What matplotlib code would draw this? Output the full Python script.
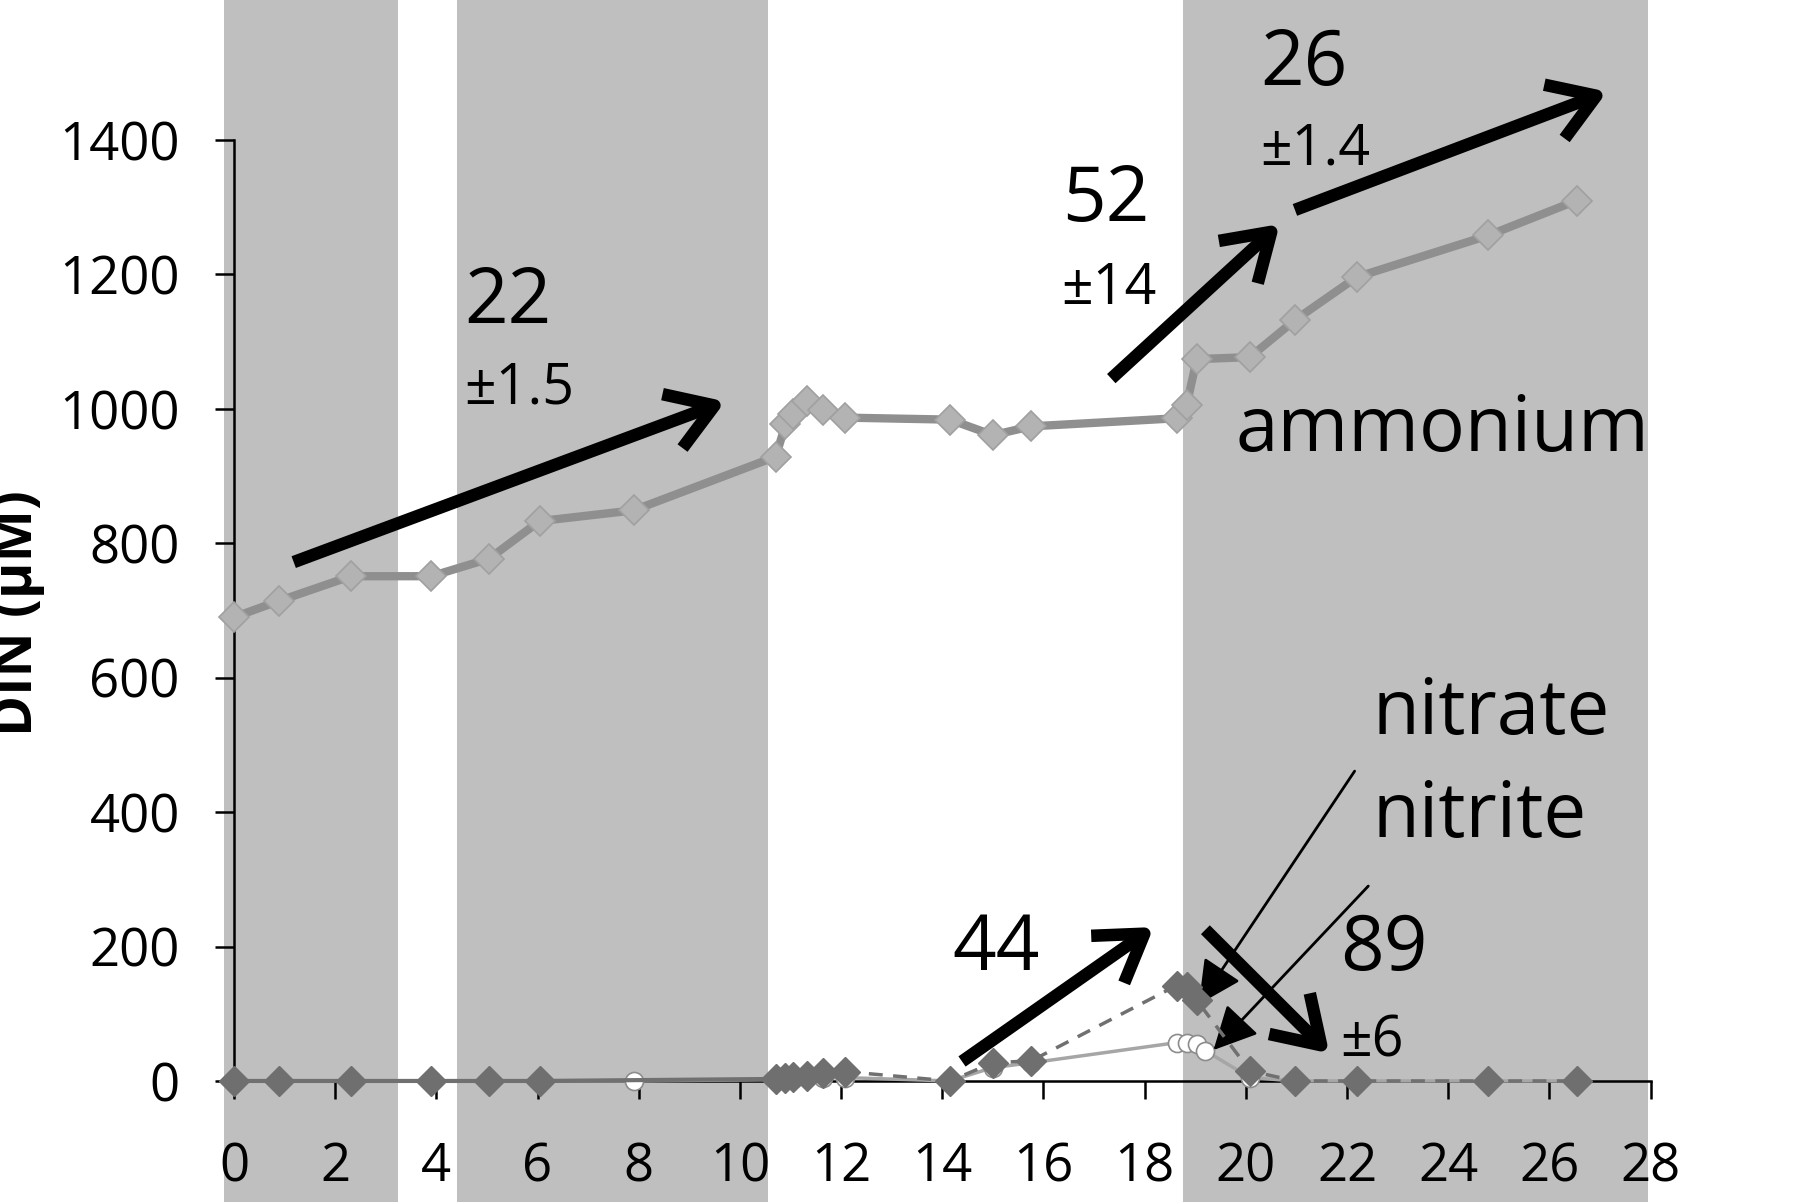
import matplotlib
matplotlib.use("Agg")
from matplotlib import pyplot as plt

# sampling times (days)
amm_t = [0, 0.88, 2.31, 3.9, 5.04, 6.04, 7.9, 10.71, 10.9, 11.05, 11.32, 11.64,
         12.07, 14.15, 15.0, 15.76, 18.63, 18.83, 19.03, 20.08, 20.97, 22.19,
         24.79, 26.54]
amm = [690, 714, 751, 751, 777, 833, 849, 929, 977, 992, 1012, 999,
       987, 984, 961, 974, 986, 1006, 1074, 1077, 1132, 1196, 1258, 1310]

no3_t = [0, 0.88, 2.31, 3.9, 5.04, 6.04, 10.71, 10.9, 11.05, 11.32, 11.64,
         12.07, 14.15, 15.0, 15.76, 18.63, 18.83, 19.03, 20.08, 20.97, 22.19,
         24.79, 26.54]
no3 = [0, 0, 0, 0, 0, 0, 3, 5, 6, 8, 12, 14, 0, 27, 30, 142, 140, 120, 15,
       0, 0, 0, 0]

no2_t = [0, 0.88, 2.31, 3.9, 5.04, 6.04, 7.9, 10.71, 11.05, 11.64, 12.07,
         14.15, 15.0, 15.76, 18.63, 18.83, 19.03, 19.2, 20.08, 20.97, 22.19,
         24.79, 26.54]
no2 = [0, 0, 0, 0, 0, 0, 0, 2, 3, 4, 5, 0, 20, 27, 57, 57, 55, 45, 5,
       0, 0, 0, 0]

# light/dark periods (shaded)
bands = [(-0.2, 3.25), (4.4, 10.55), (18.75, 27.95)]

# rates and their errors
big_labels = [("22", (4.55, 1158)), ("52", (16.36, 1310)), ("26", (20.29, 1512)),
              ("44", (14.2, 195)), ("89", (21.87, 195))]
small_labels = [("±1.5", (4.55, 1030)), ("±14", (16.36, 1178)),
                ("±1.4", (20.29, 1385)), ("±6", (21.87, 58))]
series_labels = [("ammonium", (19.8, 968)), ("nitrate", (22.5, 547)),
                 ("nitrite", (22.5, 393))]
thick_arrows = [((1.18, 772), (9.71, 1011)), ((17.34, 1045), (20.67, 1275)),
                ((20.97, 1296), (27.14, 1472)), ((14.39, 29), (18.18, 229)),
                ((19.2, 225), (21.65, 41))]
thin_arrows = [((22.15, 461), (19.07, 114)), ((22.42, 290), (19.36, 46))]

plt.rcParams["font.family"] = ["Open Sans", "DejaVu Sans"]

fig = plt.figure(figsize=(18, 12.02), dpi=100)
ax = fig.add_axes([0.130, 0.1007, 0.787, 0.7828])

for x0, x1 in bands:
    ax.axvspan(x0, x1, ymin=-0.3, ymax=1.3, color="#bfbfbf", lw=0,
               zorder=0, clip_on=False)

ax.plot(no2_t, no2, "-", color="#a6a6a6", lw=2.5, marker="o", ms=13,
        mfc="white", mec="#8c8c8c", mew=1.2, zorder=3, clip_on=False)

# nitrate: solid line for the first part, dashed afterwards
k = no3_t.index(12.07)
ax.plot(no3_t[:k + 1], no3[:k + 1], "-", color="#707070", lw=3, zorder=4,
        clip_on=False)
ax.plot(no3_t[k:], no3[k:], "--", color="#707070", lw=2.5, zorder=4,
        clip_on=False, dashes=(4, 3))
ax.plot(no3_t, no3, "D", ms=15, mfc="#6f6f6f", mec="#6f6f6f", zorder=4,
        clip_on=False)

ax.plot(amm_t, amm, "-", color="#8f8f8f", lw=6, marker="D", ms=15,
        mfc="#b3b3b3", mec="#a0a0a0", mew=1.2, zorder=5, clip_on=False)

for txt, xy in big_labels:
    ax.text(xy[0], xy[1], txt, fontsize=55, ha="left", va="center")
for txt, xy in small_labels:
    ax.text(xy[0], xy[1], txt, fontsize=40, ha="left", va="center")
for txt, xy in series_labels:
    ax.text(xy[0], xy[1], txt, fontsize=55, ha="left", va="center")

for start, end in thick_arrows:
    ax.annotate("", xy=end, xytext=start, annotation_clip=False,
                arrowprops=dict(arrowstyle="->,head_length=0.7,head_width=0.45",
                                lw=9, color="black", mutation_scale=46,
                                shrinkA=0, shrinkB=0, capstyle="butt"))
for start, end in thin_arrows:
    ax.annotate("", xy=end, xytext=start, annotation_clip=False,
                arrowprops=dict(arrowstyle="-|>,head_length=0.9,head_width=0.45",
                                lw=2, color="black", mutation_scale=30,
                                shrinkA=0, shrinkB=0))

ax.set_xlim(0, 28)
ax.set_ylim(0, 1400)
ax.set_xticks(range(0, 29, 2))
ax.set_yticks(range(0, 1401, 200))
ax.spines["top"].set_visible(False)
ax.spines["right"].set_visible(False)
ax.spines["left"].set_linewidth(1.8)
ax.spines["bottom"].set_linewidth(1.8)
ax.tick_params(axis="both", labelsize=38, width=1.8)
ax.tick_params(axis="x", length=13, pad=30)
ax.tick_params(axis="y", length=14, pad=25)
ax.patch.set_visible(False)

# axis title sits partly outside the left edge, as in the original
fig.text(0.025, 0.49, "DIN (µM)", rotation=90, fontsize=40, fontweight="bold",
         ha="right", va="center")

fig.savefig("out.png", dpi=100)
